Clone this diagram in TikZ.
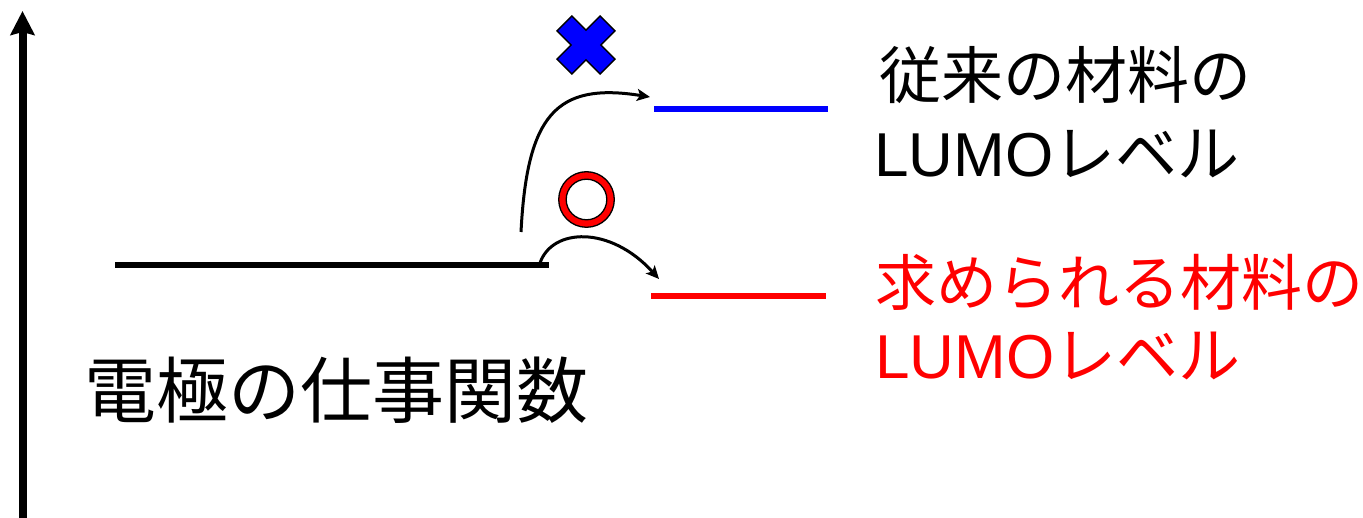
\documentclass[tikz,border=0pt]{standalone}
\usepackage{fontspec}
\setmainfont{Liberation Sans}
\newfontfamily\jp{Noto Sans CJK JP}
\usetikzlibrary{arrows.meta}
\definecolor{pblue}{RGB}{0,0,255}
\definecolor{pred}{RGB}{255,0,0}
\tikzset{
  level/.style={line width=5.8pt},
  jump/.style={line width=3pt,-{Stealth[length=13pt,width=12pt,inset=3pt]}},
  lbl/.style={inner sep=0pt,anchor=base west},
}
\begin{document}
\begin{tikzpicture}[x=1pt,y=-1pt]
\useasboundingbox (0,0) rectangle (1363,518);
% energy axis
\coordinate (axb) at (22.5,518);
\coordinate (axt) at (22.5,11);
\draw[line width=8pt,-{Stealth[length=24pt,width=24pt,inset=3pt]}] (axb) -- (axt);
% levels
\coordinate (wfA) at (115,264.7);
\coordinate (wfB) at (549,264.7);
\coordinate (oldA) at (654,109);
\coordinate (oldB) at (828,109);
\coordinate (newA) at (651,296);
\coordinate (newB) at (826,296);
\draw[level] (wfA) -- (wfB);
\draw[level,pblue] (oldA) -- (oldB);
\draw[level,pred] (newA) -- (newB);
% arrows
\coordinate (s1) at (521,232);
\coordinate (e1) at (650,97);
\coordinate (s2) at (540,263);
\coordinate (e2) at (659,279);
\draw[jump] (s1) .. controls (527,115) and (556,82) .. (e1);
\draw[jump] (s2) .. controls (552,228) and (610,225) .. (e2);
% cross mark
\begin{scope}[shift={(586,45)},rotate=45]
\filldraw[fill=pblue,draw=black,line width=1.3pt]
  (10.5,10.5) -- (30.5,10.5) -- (30.5,-10.5) -- (10.5,-10.5) -- (10.5,-30.5)
  -- (-10.5,-30.5) -- (-10.5,-10.5) -- (-30.5,-10.5) -- (-30.5,10.5)
  -- (-10.5,10.5) -- (-10.5,30.5) -- (10.5,30.5) -- cycle;
\end{scope}
% circle mark
\coordinate (oc) at (586.5,199.5);
\filldraw[fill=pred,draw=black,line width=1.3pt,even odd rule] (oc) circle[radius=27.8] (oc) circle[radius=20.3];
% labels
\node[lbl] (old1) at (879,99) {\fontsize{62}{70}\selectfont\jp 従来の材料の};
\node[lbl] (old2) at (874,177) {\fontsize{62}{70}\selectfont LUMO{\jp レベル}};
\node[lbl,text=pred] (new1) at (875,306) {\fontsize{61}{70}\selectfont\jp 求められる材料の};
\node[lbl,text=pred] (new2) at (875,379) {\fontsize{62}{70}\selectfont LUMO{\jp レベル}};
\node[lbl] (wf) at (84,418) {\fontsize{72}{80}\selectfont\jp 電極の仕事関数};
\end{tikzpicture}
\end{document}
